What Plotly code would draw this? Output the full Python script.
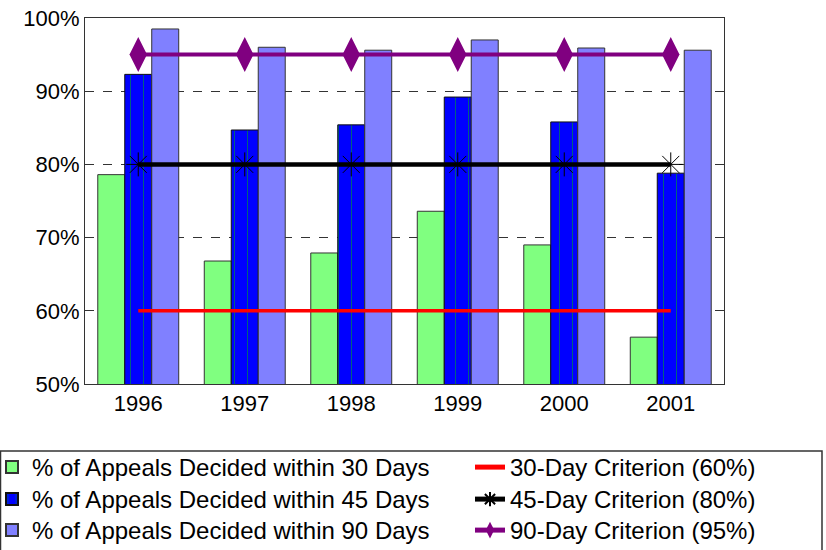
import plotly.graph_objects as go

years = ["1996", "1997", "1998", "1999", "2000", "2001"]
within30 = [78.6, 66.8, 67.9, 73.6, 69.0, 56.4]
within45 = [92.3, 84.7, 85.4, 89.2, 85.8, 78.8]
within90 = [98.5, 96.0, 95.6, 97.0, 95.9, 95.6]
crit30 = [60, 60, 60, 60, 60, 60]
crit45 = [80, 80, 80, 80, 80, 80]
crit90 = [95, 95, 95, 95, 95, 95]

font = "Liberation Sans, Arial, sans-serif"
fig = go.Figure()
fig.add_trace(go.Bar(x=years, y=within30, name="% of Appeals Decided within 30 Days",
                     marker=dict(color="#80FF80", line=dict(color="#333333", width=1)),
                     legend="legend"))
fig.add_trace(go.Bar(x=years, y=within45, name="% of Appeals Decided within 45 Days",
                     marker=dict(color="#0000FF", line=dict(color="#111111", width=1),
                                 pattern=dict(shape="|", fgcolor="#00C000", bgcolor="#0000FF",
                                              size=13, solidity=0.08)),
                     legend="legend2"))
fig.add_trace(go.Bar(x=years, y=within90, name="% of Appeals Decided within 90 Days",
                     marker=dict(color="#8080FF", line=dict(color="#333333", width=1)),
                     legend="legend3"))
fig.add_trace(go.Scatter(x=years, y=crit30, name="30-Day Criterion (60%)", mode="lines",
                         line=dict(color="#FF0000", width=3.5), legend="legend4"))
fig.add_trace(go.Scatter(x=years, y=crit45, name="45-Day Criterion (80%)", mode="lines+markers",
                         line=dict(color="#000000", width=4.5),
                         marker=dict(symbol="asterisk-open", size=20, color="#000000",
                                     line=dict(color="#000000", width=1)),
                         legend="legend5"))
fig.add_trace(go.Scatter(x=years, y=crit90, name="90-Day Criterion (95%)", mode="lines+markers",
                         line=dict(color="#800080", width=4),
                         marker=dict(symbol="diamond-tall", size=25, color="#800080"),
                         legend="legend6"))

PL, PR, PT, PB = 85, 724, 18, 384
PW, PH = PR - PL, PB - PT
def px_x(p):
    return (p - PL) / PW
def px_y(p):
    return (PB - p) / PH

legfont = dict(family=font, size=24, color="black")
def leg(xpx, ypx):
    return dict(orientation="v", x=px_x(xpx), xanchor="left", y=px_y(ypx), yanchor="top",
                borderwidth=0, bgcolor="rgba(0,0,0,0)", font=legfont,
                itemsizing="constant")

row_tops = [445, 477, 508]
fig.update_layout(
    width=826, height=550,
    margin=dict(l=PL, r=826 - PR, t=PT, b=550 - PB, autoexpand=False),
    paper_bgcolor="white", plot_bgcolor="white",
    font=dict(family=font, size=22, color="black"),
    barmode="group", bargap=0.24, bargroupgap=0,
    showlegend=True,
    legend=leg(-8, row_tops[0]),
    legend2=leg(-8, row_tops[1]),
    legend3=leg(-8, row_tops[2]),
    legend4=leg(470, row_tops[0]),
    legend5=leg(470, row_tops[1]),
    legend6=leg(470, row_tops[2]),
    shapes=[dict(type="rect", xref="paper", yref="paper",
                 x0=px_x(0.5), x1=px_x(822), y0=px_y(451), y1=px_y(600),
                 line=dict(color="#333333", width=1.5), fillcolor="rgba(0,0,0,0)")],
    xaxis=dict(showline=True, linecolor="#333333", linewidth=1, mirror=True,
               ticks="", tickfont=dict(size=22)),
    yaxis=dict(range=[50, 100], dtick=10, ticksuffix="%", showline=True,
               linecolor="#333333", linewidth=1, mirror="ticks",
               ticks="inside", ticklen=6, tickcolor="#333333",
               showgrid=True, gridcolor="#333333", griddash="dash", gridwidth=1,
               zeroline=False, tickfont=dict(size=22)),
)
fig.write_html("out.html")
